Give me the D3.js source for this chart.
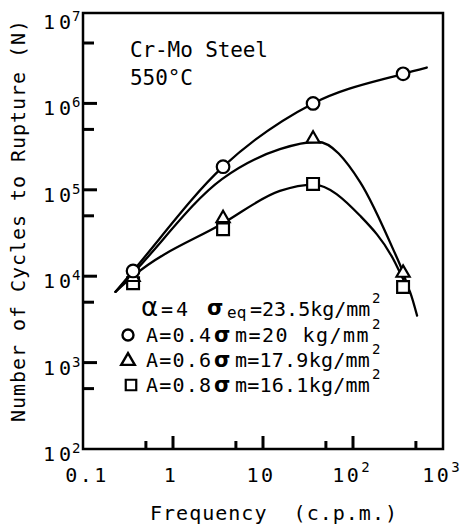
<!DOCTYPE html>
<html>
<head>
<meta charset="utf-8">
<script src="https://cdn.jsdelivr.net/npm/d3@7"></script>
<style>
  html, body { margin: 0; padding: 0; background: #fff; }
  svg { display: block; }
  text { font-family: "DejaVu Sans Mono", monospace; fill: #000; }
</style>
</head>
<body>
<div id="chart"></div>
<script>
// ---- Data ----
const frequencies = [0.36, 3.6, 36, 360];            // c.p.m.
const circleN   = [1.15e4, 1.85e5, 1.0e6, 2.2e6];     // A=0.4
const triangleN = [1.0e4, 4.8e4, 4.0e5, 1.12e4];      // A=0.6
const squareN   = [8.3e3, 3.5e4, 1.17e5, 7.5e3];      // A=0.8

// fitted curves [frequency, N]
const curveCircle = [[0.23,6.6e3],[0.36,1.15e4],[3.6,1.85e5],[36,1.0e6],[360,2.2e6],[660,2.6e6]];
const curveTriangle = [[0.23,6.6e3],[0.36,1.08e4],[3.5,1.33e5],[15.4,2.95e5],[40,3.6e5],[120,1.23e5],[278,2.07e4],[360,1.1e4],[395,8.3e3]];
const curveSquare = [[0.23,6.6e3],[0.36,1.0e4],[3.6,4.1e4],[15.4,9.7e4],[36,1.15e5],[120,5.0e4],[278,1.6e4],[360,9.3e3],[430,6.6e3],[515,3.5e3]];

const xMajor = [0.1, 1, 10, 100, 1000];
const xMajorBase = ["0.1", "1", "10", "10", "10"];
const xMajorSup  = ["", "", "", "2", "3"];
const xMinor = [0.5, 5, 50, 500];
const yMajor = [1e2, 1e3, 1e4, 1e5, 1e6, 1e7];
const yMajorSup = ["2", "3", "4", "5", "6", "7"];
const yMinor = [5e2, 5e3, 5e4, 5e5, 5e6];

const legendA = ["0.4", "0.6", "0.8"];
const legendSigmaM = ["20 ", "17.9", "16.1"];
const legendAlpha = "4";
const legendSigmaEq = "23.5";

// ---- Layout ----
const W = 462, H = 527;
const svg = d3.select("#chart").append("svg").attr("width", W).attr("height", H);

const x = d3.scaleLog().domain([0.1, 1000]).range([83, 443]);
const y = d3.scaleLog().domain([1e2, 1e7]).range([449, 17]);

// frame
svg.append("rect")
  .attr("x", x(0.1)).attr("y", 13)
  .attr("width", x(1000) - x(0.1)).attr("height", y(1e2) - 13)
  .attr("fill", "none").attr("stroke", "#000").attr("stroke-width", 2.5);

// x ticks (inward)
svg.selectAll("line.xmaj").data(xMajor.slice(1, -1)).join("line")
  .attr("x1", d => x(d)).attr("x2", d => x(d))
  .attr("y1", y(1e2)).attr("y2", y(1e2) - 13)
  .attr("stroke", "#000").attr("stroke-width", 3);
svg.selectAll("line.xmin").data(xMinor).join("line")
  .attr("x1", d => x(d)).attr("x2", d => x(d))
  .attr("y1", y(1e2)).attr("y2", y(1e2) - 8)
  .attr("stroke", "#000").attr("stroke-width", 3);

// x tick labels
xMajor.forEach((d, i) => {
  const t = svg.append("text")
    .attr("x", x(d) + (i === 0 ? 4 : -2)).attr("y", 482)
    .attr("text-anchor", "middle")
    .attr("font-size", 20)
    .attr("letter-spacing", 2.5);
  t.append("tspan").text(xMajorBase[i]);
  if (xMajorSup[i]) {
    t.append("tspan").attr("dy", -10).attr("font-size", 14).attr("letter-spacing", 0).text(xMajorSup[i]);
  }
});

// y ticks (inward)
svg.selectAll("line.ymaj").data(yMajor.slice(1, -1)).join("line")
  .attr("x1", x(0.1)).attr("x2", x(0.1) + 14)
  .attr("y1", d => y(d)).attr("y2", d => y(d))
  .attr("stroke", "#000").attr("stroke-width", 3);
svg.selectAll("line.ymin").data(yMinor).join("line")
  .attr("x1", x(0.1)).attr("x2", x(0.1) + 11)
  .attr("y1", d => y(d)).attr("y2", d => y(d))
  .attr("stroke", "#000").attr("stroke-width", 3);

// y tick labels
yMajor.forEach((d, i) => {
  svg.append("text")
    .attr("x", 43).attr("y", y(d) + 12)
    .attr("font-size", 20)
    .attr("textLength", 28).attr("lengthAdjust", "spacing")
    .text("10");
  svg.append("text")
    .attr("x", 72).attr("y", y(d) + 4)
    .attr("font-size", 14)
    .text(yMajorSup[i]);
});

// axis titles
svg.append("text")
  .attr("transform", "translate(25,221) rotate(-90)")
  .attr("text-anchor", "middle")
  .attr("font-size", 20)
  .attr("textLength", 402).attr("lengthAdjust", "spacing")
  .text("Number of Cycles to Rupture (N)");

svg.append("text")
  .attr("x", 150).attr("y", 520)
  .attr("font-size", 20)
  .attr("textLength", 247).attr("lengthAdjust", "spacing")
  .style("white-space", "pre")
  .text("Frequency  (c.p.m.)");

// annotation
svg.append("text").attr("x", 130).attr("y", 57).attr("font-size", 21)
  .attr("textLength", 138).attr("lengthAdjust", "spacing").text("Cr-Mo Steel");
svg.append("text").attr("x", 130).attr("y", 85).attr("font-size", 21)
  .attr("textLength", 63).attr("lengthAdjust", "spacing").text("550°C");

// curves
const line = d3.line()
  .x(d => x(d[0])).y(d => y(d[1]))
  .curve(d3.curveMonotoneX);
[curveCircle, curveTriangle, curveSquare].forEach(c => {
  svg.append("path").attr("d", line(c))
    .attr("fill", "none").attr("stroke", "#000").attr("stroke-width", 2.3)
    .attr("stroke-linecap", "round");
});

// markers
const markerStyle = s => s.attr("fill", "#fff").attr("stroke", "#000").attr("stroke-width", 2.2);
const triPath = d3.symbol().type(d3.symbolTriangle).size(75)();
const sqPath = d3.symbol().type(d3.symbolSquare).size(140)();

svg.selectAll("path.sq").data(frequencies).join("path")
  .attr("d", sqPath)
  .attr("transform", (d, i) => `translate(${x(d)},${y(squareN[i])})`)
  .call(markerStyle);
svg.selectAll("path.tri").data(frequencies).join("path")
  .attr("d", triPath)
  .attr("transform", (d, i) => `translate(${x(d)},${y(triangleN[i]) + 1})`)
  .call(markerStyle);
svg.selectAll("circle.c").data(frequencies).join("circle")
  .attr("cx", d => x(d)).attr("cy", (d, i) => y(circleN[i])).attr("r", 6.3)
  .call(markerStyle);

// legend: markers
const rowY = [342, 367, 392];
const rowMarkers = ["circle", "triangle", "square"];
const lg = svg.append("g");
rowY.forEach((ry, i) => {
  const cy = ry - 7;
  if (rowMarkers[i] === "circle") {
    lg.append("circle").attr("cx", 128).attr("cy", cy).attr("r", 5.5)
      .attr("fill", "#fff").attr("stroke", "#000").attr("stroke-width", 2.4);
  } else if (rowMarkers[i] === "triangle") {
    lg.append("path").attr("d", d3.symbol().type(d3.symbolTriangle).size(80)())
      .attr("transform", `translate(128,${cy + 1})`)
      .attr("fill", "#fff").attr("stroke", "#000").attr("stroke-width", 2.4);
  } else {
    lg.append("path").attr("d", d3.symbol().type(d3.symbolSquare).size(110)())
      .attr("transform", `translate(131,${cy})`)
      .attr("fill", "#fff").attr("stroke", "#000").attr("stroke-width", 2.2);
  }
});

// legend: one text block with positioned tspans
const lt = svg.append("text").attr("font-size", 20);
const span = (str, px, py, opts = {}) => {
  const s = lt.append("tspan").attr("x", px).attr("y", py).text(str);
  if (opts.size) s.attr("font-size", opts.size);
  if (opts.family) s.attr("font-family", opts.family);
  if (opts.weight) s.attr("font-weight", opts.weight);
  if (opts.ls !== undefined) s.attr("letter-spacing", opts.ls);
  return s;
};
span("α", 141, 316, { size: 26, family: "DejaVu Sans" });
span("=" + legendAlpha, 161, 316, { ls: 3 });
span("σ", 207, 315, { size: 21, family: "DejaVu Sans", weight: "bold" });
span("eq", 227, 318, { size: 16 });
span("=" + legendSigmaEq + "kg/mm", 250, 316, { ls: 0 });
span("2", 372, 303, { size: 14 });
rowY.forEach((ry, i) => {
  span("A=" + legendA[i], 146, ry, { ls: 1.2 });
  span("σ", 214, ry, { size: 21, family: "DejaVu Sans", weight: "bold" });
  const s = "m=" + legendSigmaM[i] + "kg/mm";
  span(s, 235, ry, { ls: (135 - s.length * 12.04) / s.length }).style("white-space", "pre");
  span("2", 372, ry - 13, { size: 14 });
});
</script>
</body>
</html>
